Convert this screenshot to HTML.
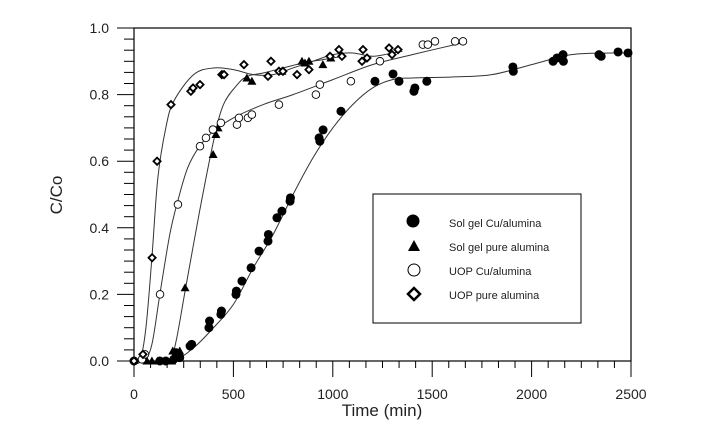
<!DOCTYPE html>
<html><head><meta charset="utf-8"><style>
html,body{margin:0;padding:0;background:#fff;}
svg{display:block;font-family:"Liberation Sans",Arial,sans-serif;}
</style></head><body>
<svg id="chart" width="704" height="440" viewBox="0 0 704 440" xmlns="http://www.w3.org/2000/svg">
<g id="axes"></g>
<g id="curves"></g>
<g id="marks"></g>
<text x="62" y="195" font-size="17" text-anchor="middle" fill="#222" transform="rotate(-90 62 195)">C/Co</text>
<text x="382" y="416" font-size="17" text-anchor="middle" fill="#222">Time (min)</text>
<g>
<rect x="373" y="194" width="208" height="129" fill="#fff" stroke="#000" stroke-width="1"/>
<g><circle cx="413" cy="221" r="6.5" fill="#000"/><text x="449" y="227" font-size="11" fill="#222">Sol gel Cu/alumina</text></g>
<g><polygon points="414,240 408,251 420,251" fill="#000"/><text x="449" y="251" font-size="11" fill="#222">Sol gel pure alumina</text></g>
<g><circle cx="414" cy="270" r="6" fill="#fff" stroke="#000" stroke-width="1"/><text x="449" y="275" font-size="11" fill="#222">UOP Cu/alumina</text></g>
<g><polygon points="414,288 420,294 414,300 408,294" fill="#fff" stroke="#000" stroke-width="2.5"/><text x="449" y="299" font-size="11" fill="#222">UOP pure alumina</text></g>
</g>
</svg>
<script>
const xTicks=[0,500,1000,1500,2000,2500];
const yTicks=[0.0,0.2,0.4,0.6,0.8,1.0];
const yTickLabels=["0.0","0.2","0.4","0.6","0.8","1.0"];
const solgelCuX=[0,130,160,200,211,230,282,290,377,380,437,440,513,515,543,589,629,674,676,719,744,785,787,931,935,951,1041,1212,1303,1333,1408,1413,1473,1906,1908,2108,2128,2158,2160,2339,2350,2435,2485];
const solgelCuY=[0,0,0,0.005,0.025,0.01,0.045,0.05,0.10,0.12,0.14,0.15,0.20,0.21,0.24,0.28,0.33,0.36,0.38,0.43,0.45,0.48,0.49,0.67,0.66,0.694,0.75,0.84,0.862,0.84,0.81,0.82,0.84,0.883,0.87,0.90,0.91,0.92,0.90,0.92,0.915,0.928,0.925];
const solgelPureX=[65,90,120,190,195,230,257,398,412,423,568,593,744,845,860,880,950,990];
const solgelPureY=[0,0,0,0,0.03,0.03,0.22,0.62,0.68,0.70,0.85,0.84,0.87,0.90,0.895,0.90,0.89,0.91];
const uopCuX=[0,40,55,131,221,332,362,397,437,518,528,573,593,729,915,935,1091,1237,1453,1478,1514,1615,1655];
const uopCuY=[0,0.005,0.02,0.20,0.47,0.645,0.67,0.695,0.715,0.71,0.73,0.73,0.74,0.77,0.80,0.83,0.84,0.90,0.95,0.95,0.96,0.96,0.96];
const uopPureX=[0,45,91,116,186,286,297,332,442,453,553,674,689,729,749,820,880,986,1031,1046,1147,1152,1172,1283,1298,1328];
const uopPureY=[0,0.02,0.31,0.60,0.77,0.81,0.82,0.83,0.86,0.86,0.89,0.855,0.90,0.87,0.87,0.86,0.875,0.915,0.935,0.915,0.90,0.935,0.91,0.94,0.92,0.935];
const fitSolgelCuX=[0,200,300,400,500,600,700,800,900,1000,1100,1200,1300,1400,1600,1800,2000,2200,2400,2500];
const fitSolgelCuY=[0,0.005,0.04,0.10,0.17,0.28,0.38,0.50,0.61,0.70,0.77,0.82,0.845,0.85,0.853,0.86,0.89,0.92,0.925,0.925];
const fitSolgelPureX=[0,150,200,260,330,400,450,520,570,650,750,850,950,1050];
const fitSolgelPureY=[0,0,0.03,0.22,0.45,0.66,0.77,0.83,0.855,0.865,0.88,0.895,0.905,0.915];
const fitUopCuX=[0,50,90,130,180,220,270,330,400,500,650,800,1000,1200,1400,1650];
const fitUopCuY=[0,0,0.05,0.20,0.38,0.48,0.58,0.645,0.69,0.73,0.77,0.80,0.845,0.89,0.92,0.955];
const fitUopPureX=[0,30,60,90,120,160,200,300,400,500,600,700,800,900,1000,1100,1200,1300,1350];
const fitUopPureY=[0,0,0.10,0.31,0.55,0.70,0.78,0.86,0.88,0.875,0.86,0.86,0.88,0.90,0.92,0.925,0.915,0.925,0.93];

const X0=134,X1=631,Y0=361,Y1=28;
const sx=v=>X0+(v-0)/2500*(X1-X0);
const sy=v=>Y0-(v-0)/1.0*(Y0-Y1);
const NS="http://www.w3.org/2000/svg";
function mk(tag,attrs,parent){const e=document.createElementNS(NS,tag);for(const k in attrs)e.setAttribute(k,attrs[k]);parent.appendChild(e);return e;}
const axes=document.getElementById('axes');
const frame=mk('rect',{x:X0,y:Y1,width:X1-X0,height:Y0-Y1,fill:'none',stroke:'#000','stroke-width':1.2},axes);


for(let i=0;i<xTicks.length-1;i++){for(let j=1;j<6;j++){const v=xTicks[i]+(xTicks[i+1]-xTicks[i])*j/6;const t=mk('line',{x1:sx(v),x2:sx(v),y1:Y0,y2:Y0+7,stroke:'#000'},axes);}}
xTicks.forEach(v=>{const t=mk('line',{x1:sx(v),x2:sx(v),y1:Y0,y2:Y0+16,stroke:'#000'},axes);
const l=mk('text',{x:sx(v),y:Y0+38,'font-size':14,'text-anchor':'middle',fill:'#222'},axes);l.textContent=String(v);});
for(let i=0;i<yTicks.length-1;i++){for(let j=1;j<6;j++){const v=yTicks[i]+(yTicks[i+1]-yTicks[i])*j/6;const t=mk('line',{x1:X0-10,x2:X0,y1:sy(v),y2:sy(v),stroke:'#000'},axes);}}
yTicks.forEach((v,i)=>{const t=mk('line',{x1:X0-17,x2:X0,y1:sy(v),y2:sy(v),stroke:'#000'},axes);
const l=mk('text',{x:109,y:sy(v)+5,'font-size':14,'text-anchor':'end',fill:'#222'},axes);l.textContent=yTickLabels[i];});
function curvePath(xs,ys){const p=xs.map((x,i)=>[sx(x),sy(ys[i])]);let d='M'+p[0][0]+','+p[0][1];
for(let i=0;i<p.length-1;i++){const a=p[Math.max(0,i-1)],b=p[i],c=p[i+1],e=p[Math.min(p.length-1,i+2)];
const c1=[b[0]+(c[0]-a[0])/6,b[1]+(c[1]-a[1])/6],c2=[c[0]-(e[0]-b[0])/6,c[1]-(e[1]-b[1])/6];
d+=' C'+c1[0]+','+c1[1]+' '+c2[0]+','+c2[1]+' '+c[0]+','+c[1];}return d;}
const cg=document.getElementById('curves');
[[fitSolgelCuX,fitSolgelCuY,'fit-curve-solgel-cu'],[fitSolgelPureX,fitSolgelPureY,'fit-curve-solgel-pure'],[fitUopCuX,fitUopCuY,'fit-curve-uop-cu'],[fitUopPureX,fitUopPureY,'fit-curve-uop-pure']].forEach(s=>{
const p=mk('path',{d:curvePath(s[0],s[1]),fill:'none',stroke:'#333','stroke-width':1},cg);

});
const mg=document.getElementById('marks');
solgelCuX.forEach((x,i)=>{const e=mk('circle',{cx:sx(x),cy:sy(solgelCuY[i]),r:4.5,fill:'#000'},mg);

});
solgelPureX.forEach((x,i)=>{const cx=sx(x),cy=sy(solgelPureY[i]);const e=mk('polygon',{points:`${cx},${cy-4.5} ${cx-4.5},${cy+3.5} ${cx+4.5},${cy+3.5}`,fill:'#000'},mg);

});
uopCuX.forEach((x,i)=>{const e=mk('circle',{cx:sx(x),cy:sy(uopCuY[i]),r:3.8,fill:'#fff',stroke:'#000','stroke-width':0.9},mg);

});
uopPureX.forEach((x,i)=>{const cx=sx(x),cy=sy(uopPureY[i]);const e=mk('polygon',{points:`${cx},${cy-3.6} ${cx+3.6},${cy} ${cx},${cy+3.6} ${cx-3.6},${cy}`,fill:'#fff',stroke:'#000','stroke-width':1.8},mg);

});
</script>
</body></html>
